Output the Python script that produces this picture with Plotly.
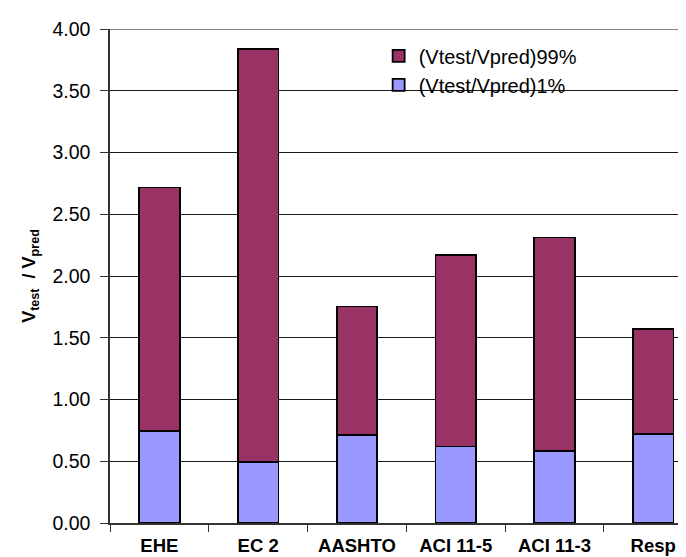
import plotly.graph_objects as go

categories = ["EHE", "EC 2", "AASHTO", "ACI 11-5", "ACI 11-3", "Resp"]
ratio_1pct = [0.742, 0.494, 0.714, 0.620, 0.580, 0.720]
ratio_99pct_total = [2.716, 3.835, 1.753, 2.171, 2.311, 1.570]
ratio_99pct_seg = [round(t - b, 3) for t, b in zip(ratio_99pct_total, ratio_1pct)]
y_ticks = [0, 0.5, 1.0, 1.5, 2.0, 2.5, 3.0, 3.5, 4.0]
cat_labels = ["<b>" + c + "</b>" for c in categories]

FONT = "Liberation Sans, Arial, sans-serif"

fig = go.Figure()
fig.add_trace(go.Bar(
    x=categories, y=ratio_1pct, name="(Vtest/Vpred)1%",
    marker=dict(color="#9999FF", line=dict(color="#000000", width=1.8)),
    width=0.41, legendgroup="a",
))
fig.add_trace(go.Bar(
    x=categories, y=ratio_99pct_seg, name="(Vtest/Vpred)99%",
    marker=dict(color="#993366", line=dict(color="#000000", width=1.8)),
    width=0.41, legendgroup="b",
))

fig.update_layout(
    barmode="stack",
    width=686, height=557,
    margin=dict(l=102, r=0, t=21, b=42),
    paper_bgcolor="white", plot_bgcolor="white",
    font=dict(family=FONT, color="#000000"),
    showlegend=True,
    legend=dict(
        x=0.46, y=0.985, xanchor="left", yanchor="top",
        bgcolor="rgba(255,255,255,0)", borderwidth=0,
        font=dict(size=20, family=FONT),
        traceorder="reversed",
        tracegroupgap=19,
        itemwidth=30,
    ),
    xaxis=dict(
        range=[-0.5, 5.413],
        tickvals=categories, ticktext=cat_labels,
        showline=True, linecolor="#333333", linewidth=1.5,
        ticks="outside", ticklen=7, tickcolor="#333333",
        tickson="boundaries",
        tickfont=dict(size=18.5, family=FONT),
        ticklabelstandoff=5,
        showgrid=False,
        automargin=False,
        fixedrange=True,
    ),
    yaxis=dict(
        range=[0, 4],
        tickvals=y_ticks, tickformat=".2f",
        showline=True, linecolor="#333333", linewidth=1.5,
        ticks="outside", ticklen=8, tickcolor="#333333",
        tickfont=dict(size=19.5, family=FONT),
        ticklabelstandoff=6,
        showgrid=True, gridcolor="#1a1a1a", gridwidth=1,
        zeroline=False,
        automargin=False,
        title=dict(text="<b>V<sub>test</sub>  / V<sub>pred</sub></b>",
                   font=dict(size=18, family=FONT), standoff=12),
    ),
    shapes=[
        dict(type="rect", xref="paper", yref="y", x0=0.438, x1=0.863,
             y0=3.2, y1=3.8, fillcolor="white", line=dict(width=0),
             layer="between"),
        dict(type="line", xref="paper", yref="y", x0=0, x1=1,
             y0=4, y1=4, line=dict(color="#808080", width=2),
             layer="above"),
    ],
)

fig.write_html("out.html")
